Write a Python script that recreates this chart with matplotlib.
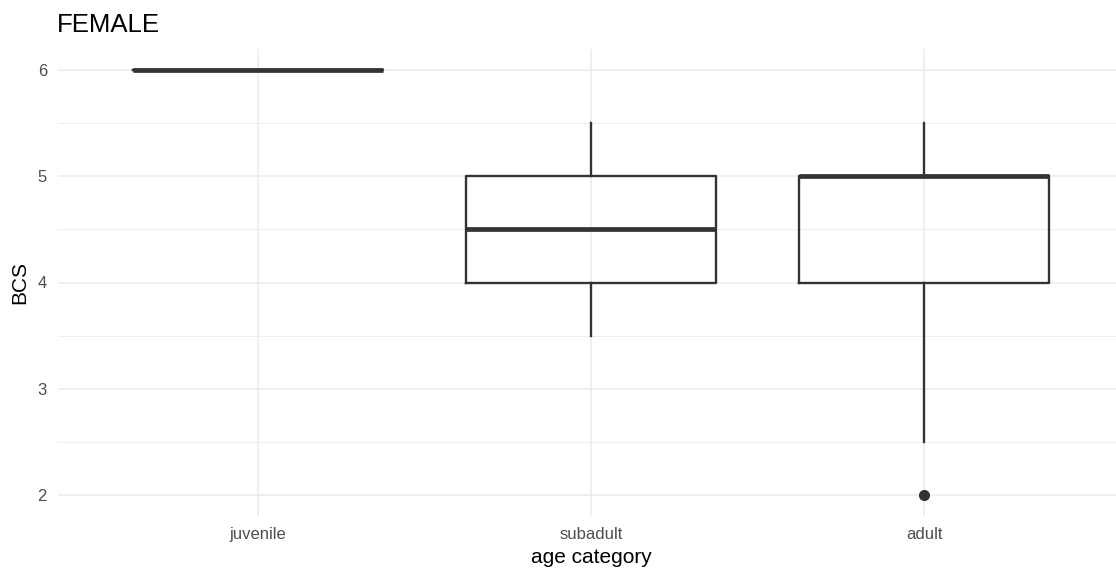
import numpy as np
import matplotlib.pyplot as plt

plt.rcParams['font.family'] = ['Liberation Sans', 'DejaVu Sans']

# Box summary per age category (BCS)
categories = ['juvenile', 'subadult', 'adult']
q1 = [6, 4, 4]
median = [6, 4.5, 5]
q3 = [6, 5, 5]
whisker_low = [6, 3.5, 2.5]
whisker_high = [6, 5.5, 5.5]
outliers = [[], [], [2]]

stats = []
for i, name in enumerate(categories):
    stats.append({'label': name, 'q1': q1[i], 'med': median[i], 'q3': q3[i],
                  'whislo': whisker_low[i], 'whishi': whisker_high[i],
                  'fliers': outliers[i]})

fig = plt.figure(figsize=(11.16, 5.68), dpi=100)
ax = fig.add_axes([58 / 1116, 51.75 / 568, 1066 / 1116, 467.5 / 568])

line_col = '#333333'
ax.bxp(stats, positions=[1, 2, 3], widths=0.75, showcaps=False,
       boxprops=dict(color=line_col, linewidth=1.7),
       whiskerprops=dict(color=line_col, linewidth=1.7),
       medianprops=dict(color=line_col, linewidth=3.4, solid_capstyle='butt'),
       flierprops=dict(marker='o', markersize=7, markerfacecolor=line_col,
                       markeredgecolor=line_col),
       zorder=3)

ax.set_xlim(0.4, 3.6)
ax.set_ylim(1.8, 6.2)
ax.set_yticks([2, 3, 4, 5, 6])
ax.set_yticks([2.5, 3.5, 4.5, 5.5], minor=True)
ax.set_xticks([1, 2, 3])
ax.set_xticklabels(categories)

ax.grid(True, which='major', color='#EBEBEB', linewidth=1.1, zorder=0)
ax.grid(True, which='minor', axis='y', color='#EBEBEB', linewidth=0.6, zorder=0)
ax.set_axisbelow(True)
for s in ax.spines.values():
    s.set_visible(False)
ax.tick_params(which='both', length=0, labelsize=12, labelcolor='#4D4D4D')
ax.tick_params(axis='x', pad=8)
ax.tick_params(axis='y', pad=8)

ax.set_xlabel('age category', fontsize=15, labelpad=4)
ax.set_ylabel('BCS', fontsize=15, labelpad=6)
fig.text(57 / 1116, 1 - 32 / 568, 'FEMALE', fontsize=18.5, ha='left', va='baseline')

fig.savefig('out.png', dpi=100, facecolor='white')
